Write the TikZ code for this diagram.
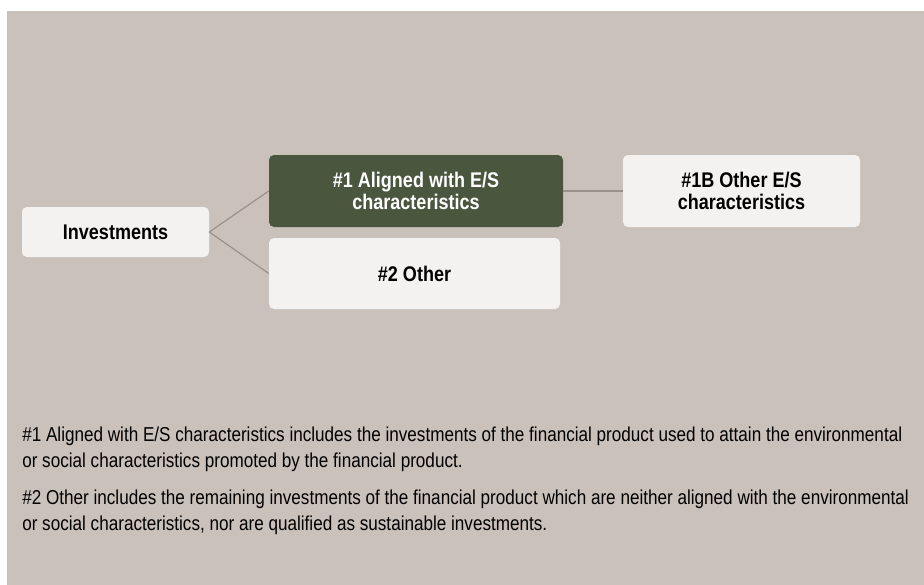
\documentclass[tikz,border=0pt]{standalone}
\usepackage{fontspec}
\setmainfont[FakeStretch=0.85]{Liberation Sans}
\usepackage{tikz}

\definecolor{panelbg}{RGB}{203,193,187}
\definecolor{boxfill}{RGB}{243,242,240}
\definecolor{greenfill}{RGB}{74,86,62}
\definecolor{linkgray}{RGB}{156,145,138}

\begin{document}
\begin{tikzpicture}[x=0.75pt,y=0.75pt,yscale=-1,xscale=1,
    catbox/.style={rectangle, rounded corners=3.75pt, fill=boxfill, text=black, inner sep=0pt,
        align=center, font=\fontsize{15.9pt}{16.5pt}\selectfont\bfseries},
    greenbox/.style={catbox, fill=greenfill, text=white},
    link/.style={draw=linkgray, line width=0.9pt},
    notetext/.style={anchor=north west, inner sep=0pt, align=left,
        font=\fontsize{15.1pt}{19.5pt}\selectfont}]
    %set diagram size 924x585
    \useasboundingbox (0,0) rectangle (924,585);
    \fill [white] (0,0) rectangle (924,585);
    \fill [panelbg] (7,11) rectangle (924,585);

    % Boxes
    \node [catbox, minimum width=140.25pt, minimum height=37.5pt] (invest) at (115.5,232) {Investments};
    \node [greenbox, minimum width=220.5pt, minimum height=54pt] (aligned) at (416,191) {\#1 Aligned with E/S\\characteristics};
    \node [catbox, minimum width=218.25pt, minimum height=53.25pt] (other) at (414.5,273.5) {\#2 Other};
    \node [catbox, minimum width=177.75pt, minimum height=54pt] (otheres) at (741.5,191) {\#1B Other E/S\\characteristics};

    % Connectors
    \draw [link] (invest.east) -- (aligned.west);
    \draw [link] (invest.east) -- (other.west);
    \draw [link] (aligned.east) -- (otheres.west);

    % Text Node
    \node [notetext] (notealigned) at (22,427) {\#1 Aligned with E/S characteristics includes the investments of the financial product used to attain the environmental\\or social characteristics promoted by the financial product.};
    % Text Node
    \node [notetext] (noteother) at (22,490) {\#2 Other includes the remaining investments of the financial product which are neither aligned with the environmental\\or social characteristics, nor are qualified as sustainable investments.};
\end{tikzpicture}
\end{document}
